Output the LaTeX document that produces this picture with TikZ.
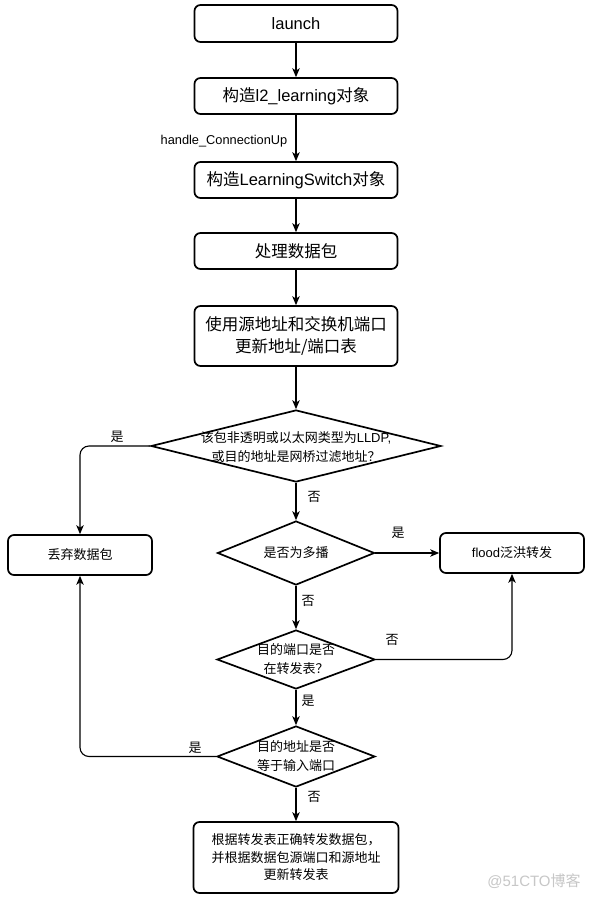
\documentclass[tikz,border=0pt]{standalone}
\usepackage{fontspec}
\setmainfont{Liberation Sans}
\newfontfamily\cjk{Noto Sans CJK SC}
\usetikzlibrary{shapes.geometric,arrows.meta}
\begin{document}
\begin{tikzpicture}[x=1pt,y=-1pt,
  box/.style={draw, line width=1.7pt, rounded corners=6pt, minimum width=203pt, minimum height=36pt, align=center, inner sep=0pt, font=\fontsize{16.5}{21.5}\selectfont},
  sbox/.style={draw, line width=1.7pt, rounded corners=6pt, minimum width=144pt, minimum height=40pt, align=center, inner sep=0pt, font=\fontsize{13}{17}\selectfont},
  dia/.style={draw, diamond, line width=1.7pt, inner sep=0pt},
  dtext/.style={align=center, font=\fontsize{13}{19}\selectfont, inner sep=0pt},
  lbl/.style={font=\fontsize{13}{15}\selectfont, inner sep=0pt},
  arr/.style={line width=1.1pt, -{Stealth[length=9pt,width=7.5pt,inset=2.5pt]}, rounded corners=9pt},
]
\useasboundingbox[fill=white] (0,0) rectangle (593,900);

\node[box, minimum height=37pt] (b1) at (296,23.5) {launch};
\node[box] (b2) at (296,96) {{\cjk 构造}l2\_learning{\cjk 对象}};
\node[box] (b3) at (296,180) {{\cjk 构造}LearningSwitch{\cjk 对象}};
\node[box] (b4) at (296,251) {\cjk 处理数据包};
\node[box, minimum height=60pt] (b5) at (296,336) {\cjk 使用源地址和交换机端口\\\cjk 更新地址/端口表};

\node[dia, minimum width=290pt, minimum height=72pt] (d1) at (296,446) {};
\node[dtext] (t1) at (296,447) {{\cjk 该包非透明或以太网类型为}LLDP,\\{\cjk 或目的地址是网桥过滤地址？}};

\node[sbox] (drop) at (80,555) {\cjk 丢弃数据包};
\node[sbox] (flood) at (512,553) {flood{\cjk 泛洪转发}};

\node[dia, minimum width=157pt, minimum height=64pt] (d2) at (296,553) {};
\node[dtext] (t2) at (296,553) {\cjk 是否为多播};

\node[dia, minimum width=158pt, minimum height=59pt] (d3) at (296,659.5) {};
\node[dtext] (t3) at (296,659.5) {\cjk 目的端口是否\\\cjk 在转发表？};

\node[dia, minimum width=158pt, minimum height=61pt] (d4) at (296,756.5) {};
\node[dtext] (t4) at (296,756.5) {\cjk 目的地址是否\\\cjk 等于输入端口};

\node[box, minimum height=71pt, minimum width=205pt, font=\fontsize{13}{17.5}\selectfont] (b6) at (296,857.5) {{\cjk 根据转发表正确转发数据包，}\\\cjk 并根据数据包源端口和源地址\\\cjk 更新转发表};

\draw[arr] (b1) -- (b2);
\draw[arr] (b2) -- (b3);
\draw[arr] (b3) -- (b4);
\draw[arr] (b4) -- (b5);
\draw[arr] (b5) -- (d1);
\draw[arr] (d1.west) -| (drop.north);
\draw[arr] (d1) -- (d2);
\draw[arr] (d2) -- (flood);
\draw[arr] (d2) -- (d3);
\draw[arr] (d3.east) -| (flood.south);
\draw[arr] (d3) -- (d4);
\draw[arr] (d4.west) -| (drop.south);
\draw[arr] (d4) -- (b6);

\node[lbl, font=\fontsize{12.8}{14}\selectfont] (hc) at (224,141) {handle\_ConnectionUp};
\node[lbl] (l1) at (117,437) {\cjk 是};
\node[lbl] (l2) at (314,497) {\cjk 否};
\node[lbl] (l3) at (398,533) {\cjk 是};
\node[lbl] (l4) at (308,601) {\cjk 否};
\node[lbl] (l5) at (392,640) {\cjk 否};
\node[lbl] (l6) at (308,701) {\cjk 是};
\node[lbl] (l7) at (195,748) {\cjk 是};
\node[lbl] (l8) at (314,797) {\cjk 否};

\node[font=\fontsize{15}{17}\selectfont, text=black!22, inner sep=0pt] (wm) at (534,881) {@51CTO{\cjk 博客}};
\end{tikzpicture}
\end{document}
